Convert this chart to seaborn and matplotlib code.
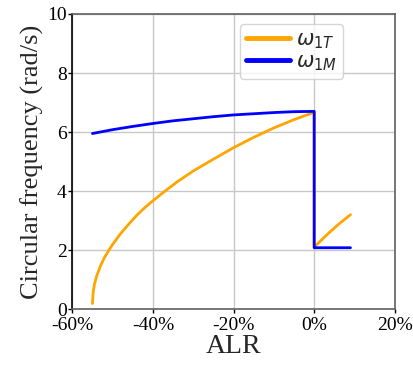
import matplotlib
matplotlib.use("Agg")
import matplotlib.pyplot as plt
import seaborn as sns
import pandas as pd
from matplotlib.ticker import FuncFormatter

# ALR in percent
alr_T = [-55.0, -54.8, -54.5, -54.0, -53.0, -52.0, -51.0, -50.0, -48.0, -46.0,
         -44.0, -42.0, -40.0, -37.0, -34.0, -30.0, -25.0, -20.0, -15.0, -10.0,
         -5.0, 0.0, 0.0, 3.0, 6.0, 9.0]
omega_T = [0.19, 0.60, 0.84, 1.10, 1.47, 1.75, 1.98, 2.19, 2.56, 2.88,
           3.18, 3.44, 3.67, 4.00, 4.31, 4.68, 5.08, 5.47, 5.82, 6.14,
           6.42, 6.67, 2.10, 2.50, 2.87, 3.20]

alr_M = [-55.0, -50.0, -45.0, -40.0, -35.0, -30.0, -25.0, -20.0, -15.0, -10.0, -5.0, 0.0, 0.0, 9.0]
omega_M = [5.95, 6.08, 6.19, 6.29, 6.38, 6.45, 6.52, 6.58, 6.62, 6.66, 6.69, 6.70, 2.08, 2.08]

x_ticks = [-60, -40, -20, 0, 20]
y_ticks = [0, 2, 4, 6, 8, 10]

df_T = pd.DataFrame({"ALR": alr_T, "omega": omega_T})
df_M = pd.DataFrame({"ALR": alr_M, "omega": omega_M})

sns.set_style("whitegrid")
plt.rcParams["font.family"] = ["Liberation Serif", "DejaVu Serif"]
plt.rcParams["mathtext.fontset"] = "dejavusans"

fig, ax = plt.subplots(figsize=(4.13, 3.68), dpi=100)
fig.subplots_adjust(left=0.175, right=0.956, top=0.962, bottom=0.16)

sns.lineplot(data=df_T, x="ALR", y="omega", ax=ax, color="orange", lw=2,
             sort=False, estimator=None, label=r"$\omega_{1T}$")
sns.lineplot(data=df_M, x="ALR", y="omega", ax=ax, color="blue", lw=2,
             sort=False, estimator=None, label=r"$\omega_{1M}$")

ax.set_xlim(-60, 20)
ax.set_ylim(0, 10)
ax.set_xticks(x_ticks)
ax.set_yticks(y_ticks)
ax.xaxis.set_major_formatter(FuncFormatter(lambda v, p: f"{int(round(v))}%"))
ax.tick_params(axis="both", labelsize=14, length=3, width=1, direction="out",
               left=True, bottom=True, colors="black")
ax.tick_params(axis="x", pad=3)
ax.tick_params(axis="y", pad=1)
ax.grid(True, color="#c8c8c8", lw=1)
ax.set_xlabel("ALR", fontsize=20, labelpad=0)
ax.set_ylabel("Circular frequency (rad/s)", fontsize=19, labelpad=2)

for s in ["top", "right", "bottom"]:
    ax.spines[s].set_color("#606060")
    ax.spines[s].set_linewidth(1.2)
ax.spines["left"].set_color("black")
ax.spines["left"].set_linewidth(1.2)

leg = ax.legend(loc="upper right", bbox_to_anchor=(0.84, 0.965), fontsize=15,
                frameon=True, framealpha=0.8, borderaxespad=0,
                handlelength=2.1, handletextpad=0.3, labelspacing=0.1,
                borderpad=0.3)
for h in leg.get_lines():
    h.set_linewidth(3.5)

fig.savefig("out.png", dpi=100)
